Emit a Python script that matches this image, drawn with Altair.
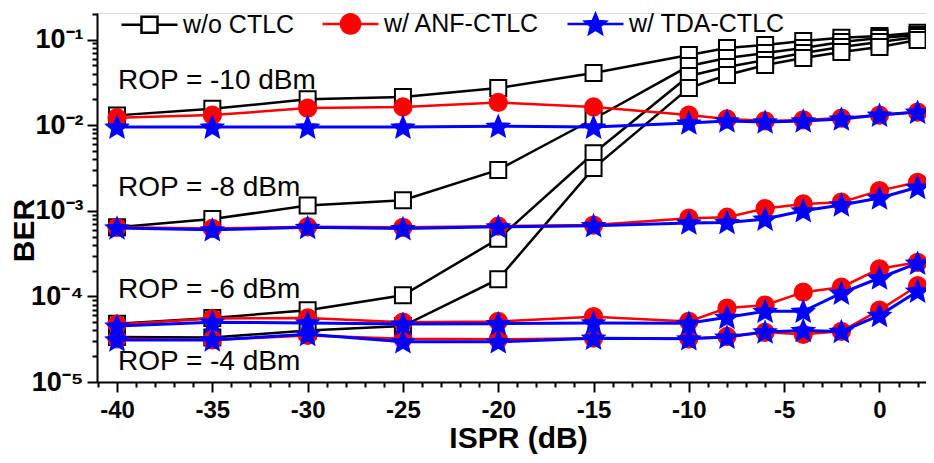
import math
import altair as alt
import pandas as pd

# ---------------- data ----------------
ispr_db = [-40, -35, -30, -25, -20, -15, -10, -8, -6, -4, -2, 0, 2]

series_names = ["w/o CTLC", "w/ ANF-CTLC", "w/ TDA-CTLC"]
rop_levels = ["-10", "-8", "-6", "-4"]

# w/o CTLC (black, open squares)
wo_m10 = [0.0130, 0.0155, 0.0200, 0.0213, 0.0271, 0.0406, 0.0659, 0.0796, 0.0863, 0.0960, 0.1050, 0.1100, 0.1200]
wo_m8 = [6.4e-4, 8.0e-4, 1.15e-3, 1.33e-3, 3.0e-3, 0.0118, 0.0490, 0.0608, 0.0695, 0.0796, 0.0935, 0.1040, 0.1130]
wo_m6 = [4.8e-5, 5.6e-5, 6.9e-5, 1.03e-4, 4.7e-4, 4.7e-3, 0.0375, 0.0477, 0.0576, 0.0695, 0.0817, 0.0935, 0.1070]
wo_m4 = [3.35e-5, 3.3e-5, 4.0e-5, 4.5e-5, 1.59e-4, 3.15e-3, 0.0271, 0.0385, 0.0503, 0.0608, 0.0714, 0.0817, 0.0987]

# w/ ANF-CTLC (red, filled circles)
anf_m10 = [0.0122, 0.0131, 0.0158, 0.0163, 0.0184, 0.0163, 0.0131, 0.0118, 0.0112, 0.0115, 0.0121, 0.0131, 0.0142]
anf_m8 = [6.4e-4, 6.2e-4, 6.5e-4, 6.4e-4, 6.6e-4, 6.8e-4, 8.2e-4, 8.4e-4, 1.06e-3, 1.20e-3, 1.26e-3, 1.72e-3, 2.15e-3]
anf_m6 = [4.7e-5, 5.5e-5, 5.6e-5, 5.0e-5, 5.1e-5, 5.8e-5, 5.1e-5, 7.3e-5, 7.9e-5, 1.12e-4, 1.28e-4, 2.1e-4, 2.5e-4]
anf_m4 = [3.2e-5, 3.1e-5, 3.5e-5, 3.2e-5, 3.15e-5, 3.25e-5, 3.2e-5, 3.4e-5, 3.8e-5, 3.6e-5, 3.9e-5, 6.9e-5, 1.33e-4]

# w/ TDA-CTLC (blue, filled stars)
tda_m10 = [0.0095, 0.0095, 0.0095, 0.0095, 0.0097, 0.0095, 0.0106, 0.0112, 0.0109, 0.0112, 0.0118, 0.0131, 0.0142]
tda_m8 = [6.3e-4, 6.0e-4, 6.4e-4, 6.2e-4, 6.5e-4, 6.7e-4, 7.2e-4, 7.3e-4, 8.0e-4, 1.0e-3, 1.17e-3, 1.41e-3, 1.88e-3]
tda_m6 = [4.5e-5, 5.0e-5, 4.9e-5, 4.75e-5, 4.8e-5, 4.9e-5, 4.85e-5, 5.7e-5, 6.7e-5, 6.7e-5, 1.09e-4, 1.64e-4, 2.45e-4]
tda_m4 = [3.1e-5, 3.1e-5, 3.6e-5, 2.95e-5, 2.95e-5, 3.25e-5, 3.2e-5, 3.35e-5, 3.85e-5, 4.0e-5, 3.9e-5, 6.0e-5, 1.15e-4]

# annotations
rop_labels = ["ROP = -10 dBm", "ROP = -8 dBm", "ROP = -6 dBm", "ROP = -4 dBm"]
rop_label_x = [-39.95, -39.95, -39.95, -39.95]
rop_label_y = [0.0328, 0.00184, 1.19e-4, 1.71e-5]

# axis ticks
x_ticks = list(range(-41, 3))
y_ticks = []
for n in range(-5, 0):
    for k in range(1, 10):
        y_ticks.append(float(f"{k}e{n}"))
y_ticks.append(0.2)

# ---------------- build tables ----------------
series_data = {
    "w/o CTLC": [wo_m10, wo_m8, wo_m6, wo_m4],
    "w/ ANF-CTLC": [anf_m10, anf_m8, anf_m6, anf_m4],
    "w/ TDA-CTLC": [tda_m10, tda_m8, tda_m6, tda_m4],
}
rows = []
for s, curves in series_data.items():
    for rop, vals in zip(rop_levels, curves):
        for xv, yv in zip(ispr_db, vals):
            rows.append({"series": s, "rop": rop, "x": xv, "y": yv})
df = pd.DataFrame(rows)

ann_df = pd.DataFrame({"label": rop_labels, "x": rop_label_x, "y": rop_label_y})

FONT = "Liberation Sans"


def poly(pts):
    return "M" + "L".join(f"{px:.3f},{py:.3f}" for px, py in pts) + "Z"


def star_path(R, r, dy=0.0):
    pts = []
    for i in range(10):
        ang = -math.pi / 2 + i * math.pi / 5
        rr = R if i % 2 == 0 else r
        pts.append((rr * math.cos(ang), rr * math.sin(ang) + dy))
    return poly(pts)


STAR = star_path(1.0, 0.45, 0.08)

x_scale = alt.Scale(domain=[-41.05, 2.44], nice=False, zero=False)
y_scale = alt.Scale(type="log", domain=[1e-5, 0.204], nice=False)

x_axis = alt.Axis(
    values=x_ticks,
    labelExpr="datum.value % 5 === 0 ? (datum.value < 0 ? '-' + (-datum.value) : '' + datum.value) : ''",
    tickSize={"condition": {"test": "datum.value % 5 === 0", "value": 10}, "value": 5},
    tickWidth=2, domainWidth=2, tickColor="black", domainColor="black",
    labelFont=FONT, labelFontSize=24, labelFontWeight="bold", labelColor="black",
    labelPadding=6, labelFlush=False, labelOverlap=False, grid=False,
    title="ISPR (dB)", titleFont=FONT, titleFontSize=30, titleFontWeight="bold",
    titleColor="black", titleX=421, titleY=56, titleBaseline="middle",
)

major_test = "abs(log(datum.value)/LN10 - round(log(datum.value)/LN10)) < 1e-6"
y_axis = alt.Axis(
    values=y_ticks,
    labelExpr=f"{major_test} ? '10\u207b' + ['\u2070','\u00b9','\u00b2','\u00b3','\u2074','\u2075'][-round(log(datum.value)/LN10)] : ''",
    tickSize={"condition": {"test": major_test, "value": 10}, "value": 5},
    tickWidth=2, domainWidth=2, tickColor="black", domainColor="black",
    labelFont=FONT, labelFontSize=27, labelFontWeight="bold", labelColor="black",
    labelPadding=4, labelFlush=False, labelOverlap=False, grid=False,
    title="BER", titleFont=FONT, titleFontSize=30, titleFontWeight="bold",
    titleColor="black", titleX=-73, titleY=217, titleAngle=-90,
    titleBaseline="middle", titleAlign="center",
)

X = alt.X("x:Q", scale=x_scale, axis=x_axis)
Y = alt.Y("y:Q", scale=y_scale, axis=y_axis)


def series_layers(name, color, shape, size, filled, fill, line_width):
    d = df[df["series"] == name]
    base = alt.Chart(d)
    line = base.mark_line(color=color, strokeWidth=line_width).encode(
        x=X, y=Y, detail="rop:N", order="x:Q"
    )
    pts = base.mark_point(
        shape=shape, size=size, filled=filled, fill=fill, stroke=color,
        strokeWidth=2, opacity=1,
    ).encode(x=X, y=Y)
    return [line, pts]


layers = []
layers += series_layers("w/o CTLC", "black", "square", 256, False, "white", 2.5)
layers += series_layers("w/ ANF-CTLC", "red", "circle", 300, True, "red", 2.5)
layers += series_layers("w/ TDA-CTLC", "blue", STAR, 480, True, "blue", 3)

# legend symbols: line with marker (custom SVG paths, unit box -1..1)
L = 3.5
circ = poly([(1.2 * math.cos(2 * math.pi * i / 28), 1.2 * math.sin(2 * math.pi * i / 28)) for i in range(28)])
legend_paths = [
    f"M{-L},0H-1M1,0H{L}M-1,-1H1V1H-1Z",
    f"M{-L},0H{L}" + circ,
    f"M{-L},0H{L}" + star_path(1.35, 0.6, 0.1),
]

leg = alt.Legend(
    title=None, orient="none", legendX=40, legendY=-2, direction="horizontal",
    symbolSize=256, symbolStrokeWidth=2.5, symbolOpacity=1,
    labelFont=FONT, labelFontSize=25, labelColor="black", labelOffset=21,
    columnPadding=22, symbolOffset=0,
)
carrier_df = df[(df["x"] == -40) & (df["rop"] == "-10")]
carrier = alt.Chart(carrier_df).mark_point(opacity=0, filled=True, size=256).encode(
    x=X, y=Y,
    shape=alt.Shape("series:N", scale=alt.Scale(domain=series_names, range=legend_paths), legend=leg),
    fill=alt.Fill("series:N", scale=alt.Scale(domain=series_names, range=["white", "red", "blue"]), legend=leg),
    stroke=alt.Stroke("series:N", scale=alt.Scale(domain=series_names, range=["black", "red", "blue"]), legend=leg),
)

ann = alt.Chart(ann_df).mark_text(
    align="left", baseline="middle", font=FONT, fontSize=28, color="black"
).encode(x=X, y=Y, text="label:N")

chart = alt.layer(*layers, carrier, ann).properties(
    width=829, height=369,
    autosize=alt.AutoSizeParams(type="none"),
    padding={"left": 89, "top": 5, "right": 0, "bottom": 73},
).configure_view(stroke=None).configure(background="white")

chart.save("out.html", embed_options={"renderer": "svg", "actions": False})
